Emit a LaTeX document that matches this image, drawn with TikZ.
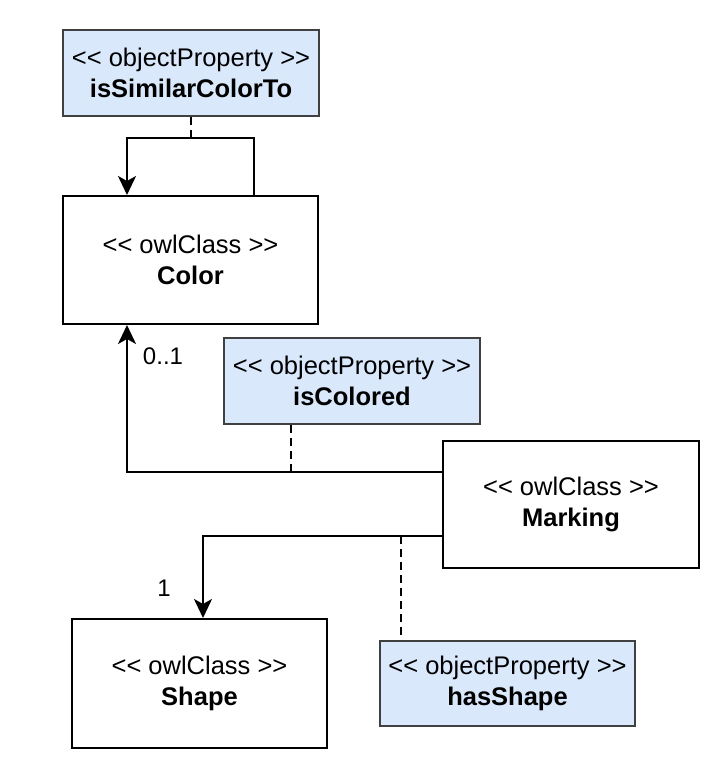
\documentclass[tikz,border=0pt]{standalone}
\usepackage{fontspec}
\setmainfont{Liberation Sans}[Ligatures=TeXOff]
\usetikzlibrary{arrows.meta}
\definecolor{propfill}{HTML}{DAE8FC}
\definecolor{propdraw}{HTML}{404040}
\tikzset{
  classbox/.style={draw=black, line width=2bp, fill=white, minimum width=255bp, minimum height=128bp, align=center, inner sep=0pt, font=\fontsize{25.5bp}{31bp}\selectfont},
  propbox/.style={draw=propdraw, line width=2bp, fill=propfill, minimum width=256bp, minimum height=86bp, align=center, inner sep=0pt, font=\fontsize{25.5bp}{31bp}\selectfont},
  link/.style={line width=2bp, draw=black},
  arr/.style={link, -{Stealth[length=19bp, width=18bp, inset=5bp]}},
  dotlink/.style={line width=2bp, draw=black, dash pattern=on 8bp off 5bp},
  mult/.style={inner sep=0pt, font=\fontsize{24bp}{28bp}\selectfont}
}
\begin{document}
\begin{tikzpicture}[x=1bp, y=-1bp]
\useasboundingbox (0,0) rectangle (719,779);
% nodes
\node[propbox] (isSim) at (191,73) {<< objectProperty >>\\\textbf{isSimilarColorTo}};
\node[classbox] (Color) at (190.5,260) {<< owlClass >>\\\textbf{Color}};
\node[propbox] (isColored) at (352,381) {<< objectProperty >>\\\textbf{isColored}};
\node[classbox, minimum width=256bp, minimum height=127bp] (Marking) at (571,504.5) {<< owlClass >>\\\textbf{Marking}};
\node[classbox, minimum height=129bp] (Shape) at (199.5,683.5) {<< owlClass >>\\\textbf{Shape}};
\node[propbox, minimum width=255bp, minimum height=85bp] (hasShape) at (507.5,683.5) {<< objectProperty >>\\\textbf{hasShape}};
% helper coordinates
\coordinate (l1) at (254,138);
\coordinate (l2) at (127,138);
\coordinate (c1) at (127,472);
\coordinate (d1) at (291,472);
\coordinate (s1) at (203,536);
\coordinate (d2) at (401,536);
% self loop on Color
\draw[arr] (Color.north -| l1) |- (l2) -- (Color.north -| l2);
\draw[dotlink] (isSim.south) -- (isSim.south |- l1);
% isColored
\draw[arr] (Marking.west |- c1) -- (c1) -- (Color.south -| c1);
\draw[dotlink] (isColored.south -| d1) -- (d1);
\node[mult] (m01) at (163,356) {0..1};
% hasShape
\draw[arr] (Marking.west |- s1) -- (s1) -- (Shape.north -| s1);
\draw[dotlink] (d2) -- (hasShape.north -| d2);
\node[mult] (m1) at (164,588) {1};
\end{tikzpicture}
\end{document}
